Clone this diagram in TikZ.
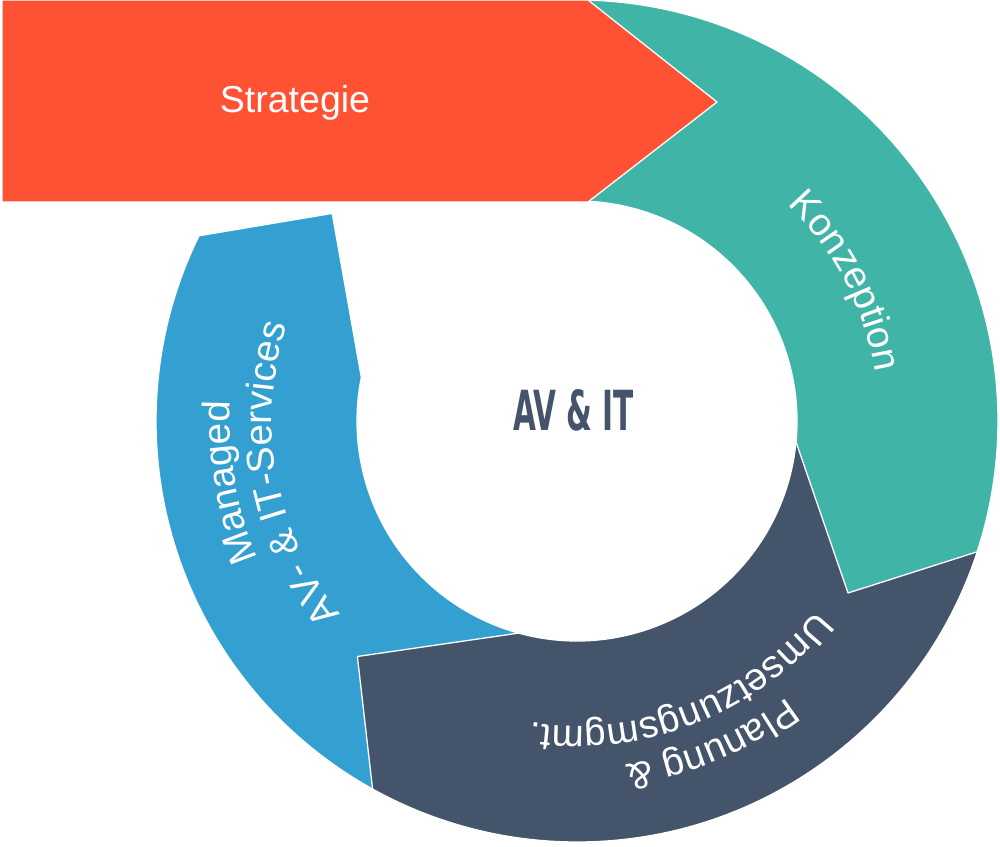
\documentclass[tikz,border=0pt]{standalone}
\usepackage{fontspec}
\setmainfont{Liberation Sans}
\newfontfamily\condfont{DejaVu Sans Condensed}
\usetikzlibrary{calc,decorations.text}
\definecolor{cRed}{RGB}{255,82,52}
\definecolor{cTeal}{RGB}{64,180,167}
\definecolor{cDark}{RGB}{68,84,106}
\definecolor{cBlue}{RGB}{51,160,209}
\newcommand\lblfont{\fontsize{38.5}{38.5}\selectfont}
\begin{document}
\begin{tikzpicture}[x=1pt,y=1pt,
  seg/.style={draw=white, line width=1.3pt, line join=round},
  arctext/.style={decorate, decoration={text along path, text align=center, text color=white, text={#1}}}]
\useasboundingbox (0,0) rectangle (1000,846);
\coordinate (C) at (577,425);
% blue segment
\path[seg, fill=cBlue] ($(C)+(-100:421pt)$) arc[start angle=-100, end angle=-206.1, radius=421pt]
  -- ($(C)+(-220.3:321pt)$) -- ($(C)+(-191.4:220pt)$)
  arc[start angle=-191.4, end angle=-100, radius=220pt] -- cycle;
% dark segment
\path[seg, fill=cDark] ($(C)+(-2:421pt)$) arc[start angle=-2, end angle=-119.05, radius=421pt]
  -- ($(C)+(-133:322pt)$) -- ($(C)+(-105.4:220pt)$)
  arc[start angle=-105.4, end angle=-2, radius=220pt] -- cycle;
% teal segment
\path[seg, fill=cTeal] ($(C)+(90:421pt)$) arc[start angle=90, end angle=-18.1, radius=421pt]
  -- ($(C)+(-32.4:321pt)$) -- ($(C)+(-5.45:220pt)$)
  arc[start angle=-5.45, end angle=90, radius=220pt] -- cycle;
% red arrow
\path[seg, fill=cRed] (2,846) -- (588,846) -- (717,744) -- (588,644) -- (2,644) -- cycle;
\node[text=white, font=\fontsize{37.5}{37.5}\selectfont, anchor=base, inner sep=0] (strat) at (295,733) {Strategie};
% centre title
\node[text=cDark, inner sep=0] (title) at (573.5,435.5) {\resizebox{121pt}{41pt}{\condfont\bfseries AV \& IT}};
% curved labels
\path[arctext={|\lblfont|Konzeption}] ($(C)+(87.5:302pt)$) arc[start angle=87.5, end angle=-32.5, radius=302pt];
\path[arctext={|\lblfont|Planung {\&}}] ($(C)+(-7.4:347pt)$) arc[start angle=-7.4, end angle=-127.4, radius=347pt];
\path[arctext={|\lblfont|Umsetzungsmgmt.}] ($(C)+(-8.5:305pt)$) arc[start angle=-8.5, end angle=-128.5, radius=305pt];
\path[arctext={|\lblfont|Managed}] ($(C)+(250:347pt)$) arc[start angle=250, end angle=130, radius=347pt];
\path[arctext={|\lblfont|AV- {\&} IT-Services}] ($(C)+(250.5:305pt)$) arc[start angle=250.5, end angle=130.5, radius=305pt];
\end{tikzpicture}
\end{document}
